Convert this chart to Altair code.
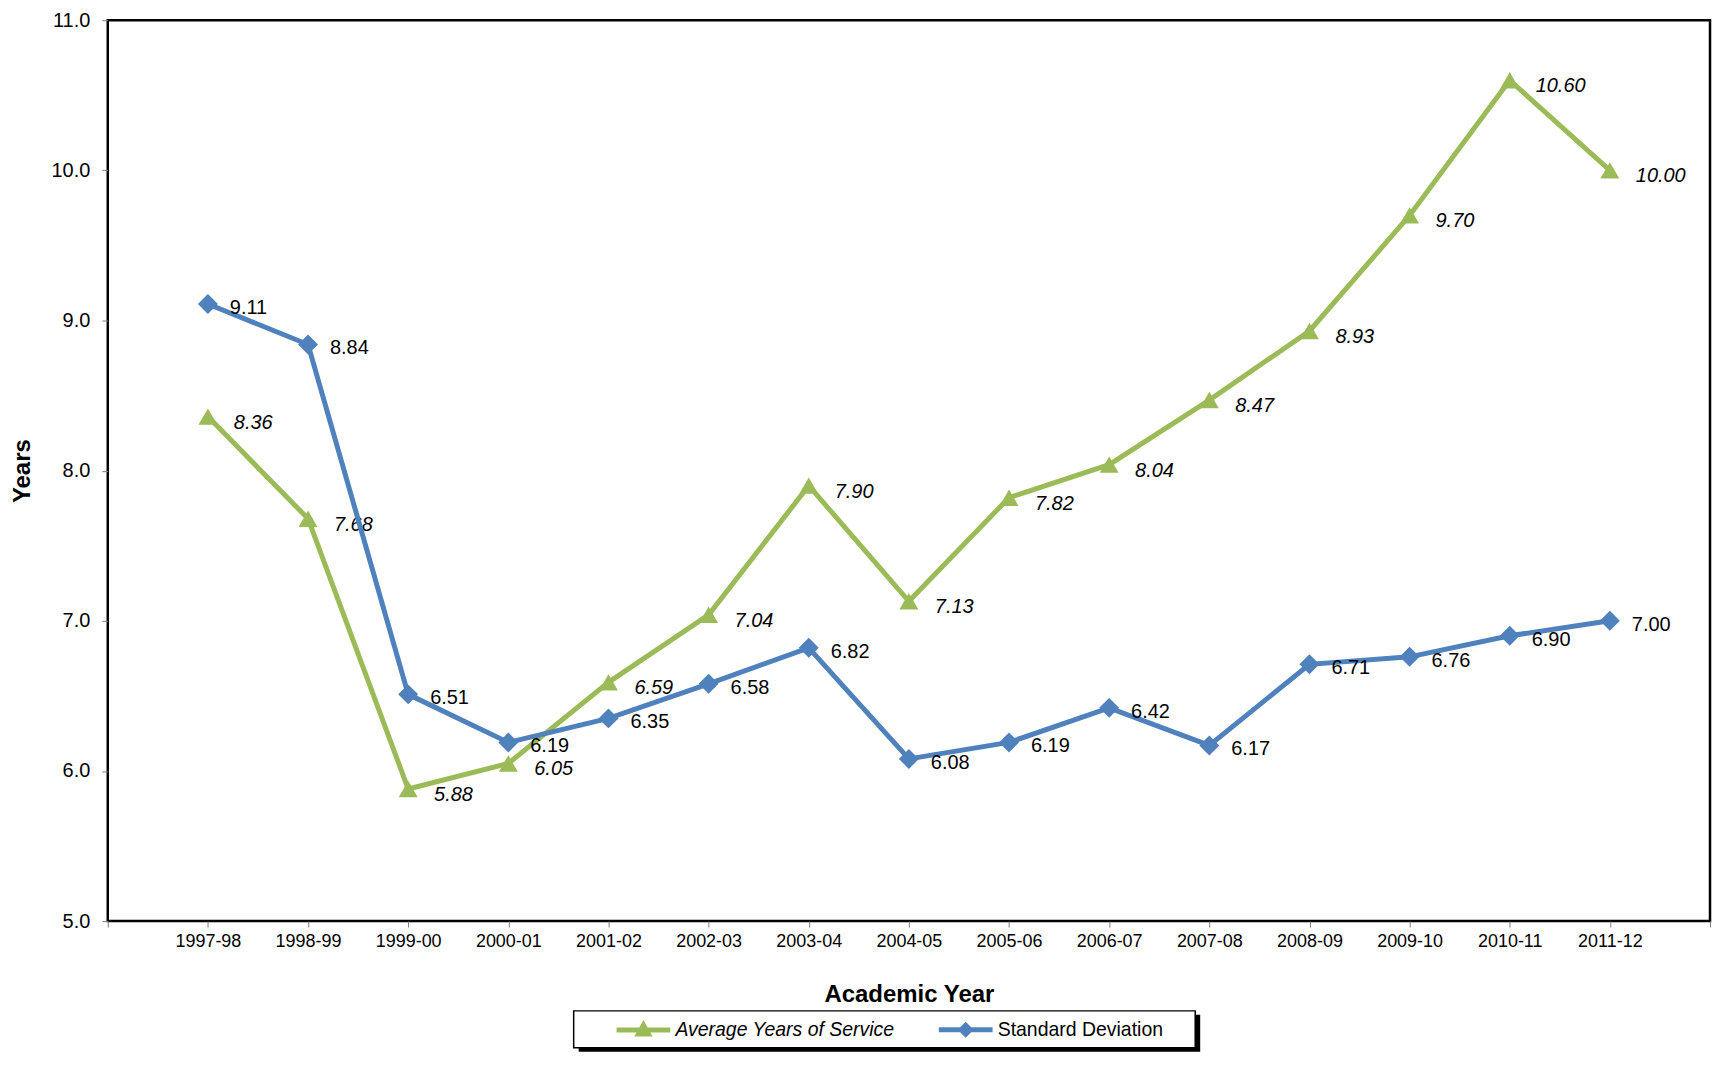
import json
import altair as alt
import pandas as pd

# ---- data ----
years = ["1997-98", "1998-99", "1999-00", "2000-01", "2001-02", "2002-03", "2003-04",
         "2004-05", "2005-06", "2006-07", "2007-08", "2008-09", "2009-10", "2010-11", "2011-12"]
avg_service = [8.36, 7.68, 5.88, 6.05, 6.59, 7.04, 7.90, 7.13, 7.82, 8.04, 8.47, 8.93, 9.70, 10.60, 10.00]
std_dev = [9.11, 8.84, 6.51, 6.19, 6.35, 6.58, 6.82, 6.08, 6.19, 6.42, 6.17, 6.71, 6.76, 6.90, 7.00]
series_names = ["Average Years of Service", "Standard Deviation"]
series_colors = ["#9BBB59", "#4F81BD"]
y_ticks = [5, 6, 7, 8, 9, 10, 11]

rows = []
for i, yr in enumerate(years):
    rows.append({"year": yr, "pos": i + 1, "series": series_names[0], "value": avg_service[i]})
    rows.append({"year": yr, "pos": i + 1, "series": series_names[1], "value": std_dev[i]})
df = pd.DataFrame(rows)

FONT = "Liberation Sans, Arial, Helvetica, sans-serif"
n = len(years)
x_ticks = list(range(0, n + 2))
label_expr = f"datum.value >= 1 && datum.value <= {n} ? {json.dumps(years)}[datum.value - 1] : ''"

x_enc = alt.X(
    "pos:Q",
    scale=alt.Scale(domain=[0, n + 1], nice=False, zero=False),
    axis=alt.Axis(
        title="Academic Year", values=x_ticks, labelExpr=label_expr, grid=False, domain=False,
        tickColor="#7f7f7f", tickSize=6, tickWidth=1, labelFont=FONT, labelFontSize=18,
        labelColor="black", labelPadding=5, labelFlush=False, labelOverlap=False,
        titleFont=FONT, titleFontSize=24, titleFontWeight="bold", titleColor="black",
        titlePadding=33,
    ),
)
y_enc = alt.Y(
    "value:Q",
    scale=alt.Scale(domain=[5, 11], nice=False, zero=False),
    axis=alt.Axis(
        title="Years", values=y_ticks, format=".1f", grid=False, domain=False,
        tickColor="#7f7f7f", tickSize=6, tickWidth=1, labelFont=FONT, labelFontSize=20,
        labelColor="black", labelPadding=12, labelFlush=False,
        titleFont=FONT, titleFontSize=24, titleFontWeight="bold", titleColor="black",
        titlePadding=17,
    ),
)

base = alt.Chart(df)
shapes = ["triangle-up", "diamond"]
sizes = [361, 400]
label_styles = [("italic", 26, 6), ("normal", 22, 4)]

layers = []

# legend frame with its drop shadow (decoration, below the plot)
frame_src = alt.Chart(alt.Data(values=[{"frame": 1}]))
layers.append(frame_src.mark_rect(color="black").encode(
    x=alt.value(472), x2=alt.value(1095), y=alt.value(997), y2=alt.value(1034)))
layers.append(frame_src.mark_rect(fill="white", stroke="black", strokeWidth=1.5).encode(
    x=alt.value(467), x2=alt.value(1090), y=alt.value(993), y2=alt.value(1030)))

for name, col, shp, sz, (fstyle, ddx, ddy) in zip(series_names, series_colors, shapes, sizes, label_styles):
    sub = base.transform_filter(alt.datum.series == name)
    layers.append(sub.mark_line(color=col, strokeWidth=5).encode(x=x_enc, y=y_enc))
    layers.append(sub.mark_point(shape=shp, filled=True, size=sz, color=col, opacity=1).encode(x=x_enc, y=y_enc))
    layers.append(
        sub.mark_text(align="left", baseline="middle", dx=ddx, dy=ddy, font=FONT, fontSize=20,
                      fontStyle=fstyle, color="black")
        .encode(x=x_enc, y=y_enc, text=alt.Text("value:Q", format=".2f"))
    )

# legend symbols: a line with the marker on it (unit = 11 px)
tri_path = "M-1.5,0H3.4M0.5,0.36L0.95,-0.45L1.4,0.36Z"
dia_path = "M-1.5,0H3.4M0.95,-0.41L1.36,0L0.95,0.41L0.54,0Z"

legend = alt.Legend(
    orient="none", legendX=513, legendY=998, direction="horizontal", columns=2,
    title=None,
    symbolSize=484, symbolStrokeWidth=5, symbolOpacity=1,
    labelFont=FONT, labelFontSize=19.5, labelColor="black", labelOffset=29,
    labelFontStyle=alt.ExprRef(expr=f"datum.label == '{series_names[0]}' ? 'italic' : 'normal'"),
    columnPadding=34, padding=0, labelLimit=400,
)
legend_layer = base.mark_point(filled=True, opacity=0).encode(
    x=x_enc, y=y_enc,
    fill=alt.Fill("series:N", scale=alt.Scale(domain=series_names, range=series_colors), legend=legend),
    stroke=alt.Stroke("series:N", scale=alt.Scale(domain=series_names, range=series_colors), legend=legend),
    shape=alt.Shape("series:N", scale=alt.Scale(domain=series_names, range=[tri_path, dia_path]), legend=legend),
)
layers.append(legend_layer)

chart = alt.layer(*layers).properties(
    width=1606, height=903,
    autosize=alt.AutoSizeParams(type="none"),
    padding={"left": 100, "top": 11, "right": 2, "bottom": 132},
    background="white",
).configure_view(stroke="black", strokeWidth=2.5)

chart.save("out.html", embed_options={"renderer": "svg", "actions": False})
